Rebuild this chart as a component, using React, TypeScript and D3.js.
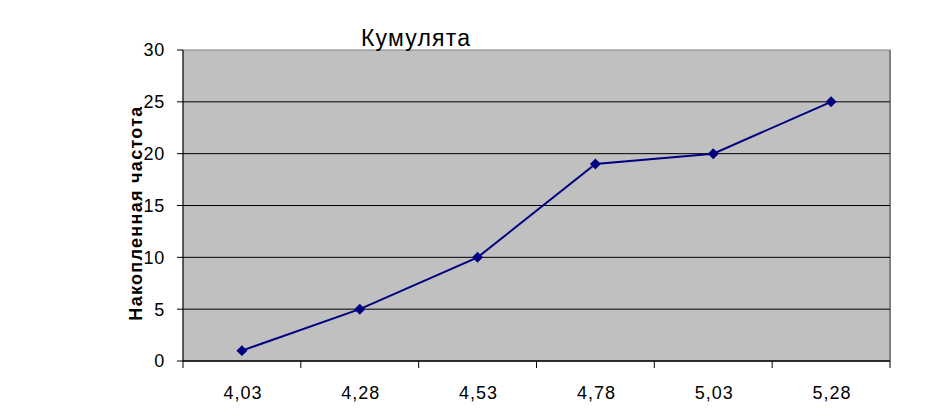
import React from "react";
import * as d3 from "d3";

const categories = ["4,03", "4,28", "4,53", "4,78", "5,03", "5,28"];
const values = [1, 5, 10, 19, 20, 25];
const yTicks = [0, 5, 10, 15, 20, 25, 30];
const title = "Кумулята";
const yTitle = "Накопленная частота";

export default function App() {
  const W = 930, H = 417;
  const left = 183, right = 890, top = 50, bottom = 361;
  const x = d3.scaleBand<string>().domain(categories).range([left, right]).padding(0);
  const y = d3.scaleLinear().domain([0, 30]).range([bottom, top]);
  const cx = (c: string) => (x(c) as number) + x.bandwidth() / 2;
  const line = d3.line<number>().x((_, i) => cx(categories[i])).y((d) => y(d));
  const diamond = d3.symbol().type(d3.symbolSquare).size(60)();
  const font = "'Liberation Sans', Arial, sans-serif";
  const bounds = categories.map((c) => x(c) as number).concat([right]);
  return (
    <svg width={W} height={H} style={{ position: "absolute", left: 0, top: 0, background: "#fff" }} fontFamily={font}>
      <rect x={left} y={top} width={right - left} height={bottom - top} fill="#C0C0C0" stroke="#808080" strokeWidth={1} />
      <line x1={right} x2={right} y1={top} y2={bottom} stroke="#808080" strokeWidth={2} />
      {yTicks.map((t) => (
        <g key={t}>
          {t > 0 && t < 30 && <line x1={left} x2={right} y1={y(t)} y2={y(t)} stroke="#000" strokeWidth={1} />}
          <line x1={left - 6} x2={left} y1={y(t)} y2={y(t)} stroke="#000" strokeWidth={1} />
          <text x={165} y={y(t)} dy="0.36em" textAnchor="end" fontSize={18} letterSpacing={0.8}>{t}</text>
        </g>
      ))}
      <line x1={left} x2={left} y1={top} y2={bottom} stroke="#000" strokeWidth={1} />
      <line x1={left} x2={right} y1={bottom} y2={bottom} stroke="#000" strokeWidth={1.5} />
      {bounds.map((b, i) => (
        <line key={i} x1={b} x2={b} y1={bottom} y2={bottom + 7} stroke="#000" strokeWidth={1} />
      ))}
      {categories.map((c) => (
        <text key={c} x={cx(c) + 1} y={399} textAnchor="middle" fontSize={18} letterSpacing={1}>{c}</text>
      ))}
      <path d={line(values) || ""} fill="none" stroke="#000080" strokeWidth={2} />
      {values.map((v, i) => (
        <path key={i} d={diamond || ""} transform={`translate(${cx(categories[i])},${y(v)}) rotate(45)`} fill="#000080" />
      ))}
      <text x={416} y={46} textAnchor="middle" fontSize={23} letterSpacing={1.2}>{title}</text>
      <text transform={`translate(142,213) rotate(-90)`} textAnchor="middle" fontSize={18} fontWeight="bold" letterSpacing={1.3}>{yTitle}</text>
    </svg>
  );
}
